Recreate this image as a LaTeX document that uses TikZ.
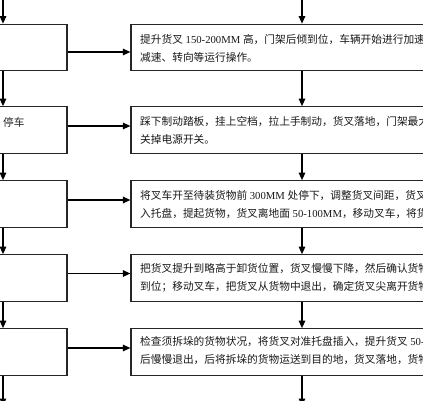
\documentclass[tikz,border=0pt]{standalone}
\usepackage{fontspec}
\setmainfont{Liberation Serif}
\newfontfamily\cj{Noto Sans CJK SC}
\usetikzlibrary{arrows.meta}
\tikzset{
  box/.style={draw=black!85, line width=1.2pt, rectangle, minimum height=46.5pt, inner sep=0pt},
  lbox/.style={box, minimum width=128pt},
  rbox/.style={box, minimum width=342pt},
  arr/.style={draw=black, line width=1.2pt, -{Triangle[length=7.5pt,width=6.5pt]}},
  txt/.style={anchor=west, align=left, inner sep=0pt, text=black!90,
    font=\fontsize{10.7}{18}\selectfont},
  ltxt/.style={anchor=west, inner sep=0pt, text=black!85, font=\cj\fontsize{10.7}{12}\selectfont}
}
\begin{document}
\begin{tikzpicture}[x=1pt,y=1pt]
\useasboundingbox (0,0) rectangle (423,-400);
\clip (0,0) rectangle (423,-400);
\fill[white] (0,0) rectangle (423,-400);

% left column boxes
\node[lbox] (L1) at (3,-47.5) {};
\node[lbox] (L2) at (3,-130) {};
\node[lbox] (L3) at (3,-204) {};
\node[lbox] (L4) at (3,-278) {};
\node[lbox] (L5) at (3,-352) {};
% right column boxes
\node[rbox] (R1) at (302,-47.5) {};
\node[rbox] (R2) at (302,-130) {};
\node[rbox] (R3) at (302,-204) {};
\node[rbox] (R4) at (302,-278) {};
\node[rbox] (R5) at (302,-352) {};

\node[ltxt] (LT2) at (3,-122) {停车};

% right texts
\node[txt] (T1) at (140,-48) {{\cj 提升货叉} 150-200MM {\cj 高，门架后倾到位，车辆开始进行加速}\\{\cj 减速、转向等运行操作。}};
\node[txt] (T2) at (140,-130) {{\cj 踩下制动踏板，挂上空档，拉上手制动，货叉落地，门架最大}\\{\cj 关掉电源开关。}};
\node[txt] (T3) at (140,-205) {{\cj 将叉车开至待装货物前} 300MM {\cj 处停下，调整货叉间距，货叉插}\\{\cj 入托盘，提起货物，货叉离地面} 50-100MM{\cj ，移动叉车，将货物}};
\node[txt] (T4) at (140,-278) {{\cj 把货叉提升到略高于卸货位置，货叉慢慢下降，然后确认货物}\\{\cj 到位；移动叉车，把货叉从货物中退出，确定货叉尖离开货物}};
\node[txt] (T5) at (140,-351) {{\cj 检查须拆垛的货物状况，将货叉对准托盘插入，提升货叉} 50-\\{\cj 后慢慢退出，后将拆垛的货物运送到目的地，货叉落地，货物}};

% incoming / outgoing coordinates
\coordinate (LA) at (3,5);
\coordinate (RA) at (302,5);
\coordinate (LZ) at (3,-406);
\coordinate (RZ) at (302,-406);

% vertical arrows
\draw[arr] (LA) -- (L1.north);
\draw[arr] (L1.south) -- (L2.north);
\draw[arr] (L2.south) -- (L3.north);
\draw[arr] (L3.south) -- (L4.north);
\draw[arr] (L4.south) -- (L5.north);
\draw[arr] (L5.south) -- (LZ);
\draw[arr] (RA) -- (R1.north);
\draw[arr] (R1.south) -- (R2.north);
\draw[arr] (R2.south) -- (R3.north);
\draw[arr] (R3.south) -- (R4.north);
\draw[arr] (R4.south) -- (R5.north);
\draw[arr] (R5.south) -- (RZ);

% horizontal arrows
\draw[arr] ([yshift=-4.5pt]L1.east) -- ([yshift=-4.5pt]R1.west);
\draw[arr] ([yshift=4pt]L2.east) -- ([yshift=4pt]R2.west);
\draw[arr] ([yshift=4pt]L3.east) -- ([yshift=4pt]R3.west);
\draw[arr] ([yshift=4.5pt]L4.east) -- ([yshift=4.5pt]R4.west);
\draw[arr] ([yshift=4pt]L5.east) -- ([yshift=4pt]R5.west);
\end{tikzpicture}
\end{document}
